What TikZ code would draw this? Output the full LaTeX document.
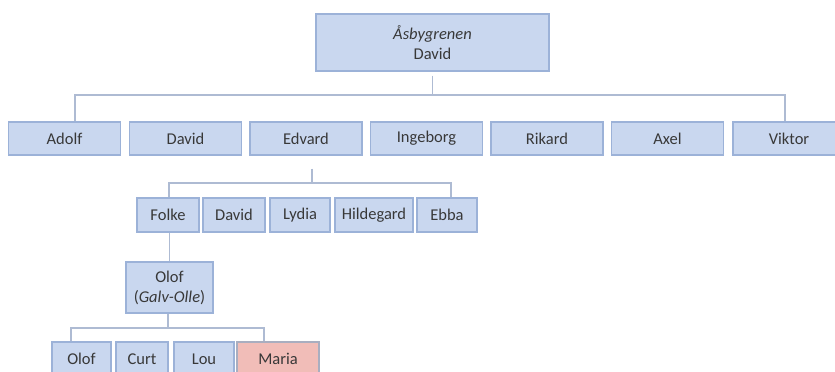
\documentclass[tikz,border=0pt]{standalone}
\usepackage{fontspec}
\setmainfont{Carlito}
\definecolor{boxfill}{HTML}{C9D7EF}
\definecolor{boxline}{HTML}{9CB2D8}
\definecolor{pinkfill}{HTML}{F1BDB8}
\definecolor{pinkline}{HTML}{A9AEC0}
\definecolor{conncol}{HTML}{AEBBD3}
\definecolor{txt}{HTML}{383838}
\begin{document}
\begin{tikzpicture}[x=1pt,y=-1pt,
  box/.style={draw=boxline, fill=boxfill, line width=1.2pt, inner sep=0pt,
    text=txt, font=\fontsize{16.5}{20}\selectfont, align=center},
  pinkbox/.style={box, draw=pinkline, fill=pinkfill},
  conn/.style={draw=conncol, line width=1.5pt}]
\useasboundingbox (0,0) rectangle (835,372);
\clip (0,0) rectangle (835,372);
% top
\node[box, minimum width=233pt, minimum height=57pt] (top) at (432.5,42.5) {\textit{Åsbygrenen}\\David};
% row 2
\foreach \n/\t/\cx in {adolf/Adolf/64.5, david/David/185.5, edvard/Edvard/306, ingeborg/Ingeborg/426.5, rikard/Rikard/547, axel/Axel/667.5, viktor/Viktor/789}
  \node[box, minimum width=112pt, minimum height=33pt] (\n) at (\cx,138.5) {\t};
% row 3
\node[box, minimum width=62pt, minimum height=34pt] (folke) at (168,215) {Folke};
\node[box, minimum width=62pt, minimum height=34pt] (david2) at (234,215) {David};
\node[box, minimum width=60pt, minimum height=34pt] (lydia) at (300,215) {Lydia};
\node[box, minimum width=78pt, minimum height=34pt] (hildegard) at (374,215) {Hildegard};
\node[box, minimum width=60pt, minimum height=34pt] (ebba) at (447,215) {Ebba};
% Olof
\node[box, minimum width=87pt, minimum height=51pt] (olofg) at (169.5,287.5) {Olof\\(\textit{Galv-Olle})};
% bottom row
\node[box, minimum width=59pt, minimum height=34pt] (olof2) at (81.5,359) {Olof};
\node[box, minimum width=52pt, minimum height=34pt] (curt) at (142,359) {Curt};
\node[box, minimum width=60pt, minimum height=34pt] (lou) at (204,359) {Lou};
\node[pinkbox, minimum width=82pt, minimum height=34pt] (maria) at (278,359) {Maria};
% connectors top
\coordinate (j1) at (432.5,95);
\coordinate (hL) at (75,95);
\coordinate (hR) at (785,95);
\draw[conn, shorten <=4pt] (top.south) -- (j1);
\draw[conn] (adolf.north -| hL) -- (hL) -- (hR) -- (viktor.north -| hR);
% Edvard children
\coordinate (j2) at (312,183);
\coordinate (h2L) at (169,183);
\coordinate (h2R) at (451,183);
\draw[conn, shorten <=13pt] (edvard.south -| j2) -- (j2);
\draw[conn] (folke.north -| h2L) -- (h2L) -- (h2R) -- (ebba.north -| h2R);
% Folke to Olof
\draw[conn] (folke.south -| olofg.north) -- (olofg.north);
% Olof children
\coordinate (j3) at (168,328);
\coordinate (h3L) at (71,328);
\coordinate (h3R) at (264,328);
\draw[conn] (olofg.south -| j3) -- (j3);
\draw[conn] (olof2.north -| h3L) -- (h3L) -- (h3R) -- (maria.north -| h3R);
\end{tikzpicture}
\end{document}
